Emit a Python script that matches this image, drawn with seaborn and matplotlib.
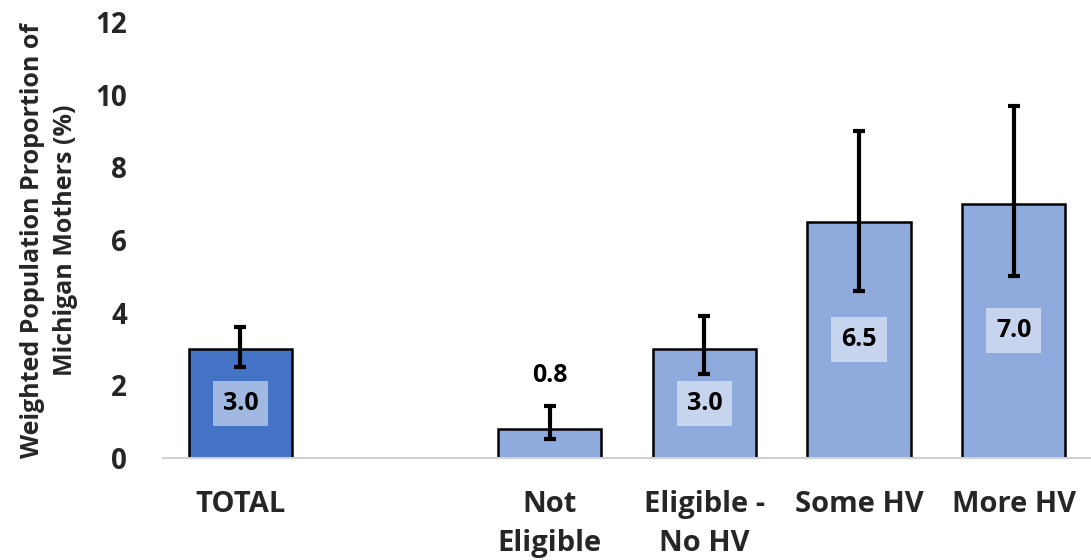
import pandas as pd
import matplotlib.pyplot as plt
import seaborn as sns

# chart data
categories = ["TOTAL", "Not\nEligible", "Eligible -\nNo HV", "Some HV", "More HV"]
values = [3.0, 0.8, 3.0, 6.5, 7.0]
err_low = [2.5, 0.52, 2.3, 4.6, 5.0]
err_high = [3.6, 1.42, 3.9, 9.0, 9.7]
order = ["TOTAL", " ", "Not\nEligible", "Eligible -\nNo HV", "Some HV", "More HV"]
bar_colors = ["#4472C4", "#8FAADC", "#8FAADC", "#8FAADC", "#8FAADC"]

df = pd.DataFrame({"group": categories, "pct": values})

sns.set_style("white")
plt.rcParams['font.family'] = ['Open Sans', 'DejaVu Sans']
plt.rcParams['font.weight'] = 'bold'

fig = plt.figure(figsize=(10.91, 5.6), dpi=100)
ax = fig.add_axes([163 / 1091, 1 - 458 / 560, (1091 - 163) / 1091, (458 - 22) / 560])

sns.barplot(data=df, x="group", y="pct", hue="group", order=order, hue_order=categories,
            palette=bar_colors, dodge=False, legend=False, width=0.67,
            edgecolor="black", linewidth=1.8, saturation=1, ax=ax)

# error bars and value labels
xpos = [order.index(c) for c in categories]
for x, v, lo, hi in zip(xpos, values, err_low, err_high):
    ax.errorbar(x, v, yerr=[[v - lo], [hi - v]], fmt="none", ecolor="black",
                elinewidth=3, capsize=4.5, capthick=3, zorder=5)
    if v < 1:
        ax.text(x, hi + 0.86, f"{v:.1f}", ha="center", va="center", fontsize=18,
                fontweight="bold", color="black", zorder=6)
    else:
        ax.text(x, v / 2, f"{v:.1f}", ha="center", va="center", fontsize=18,
                fontweight="bold", color="black", zorder=6,
                bbox=dict(boxstyle="square,pad=0.4", facecolor="white", alpha=0.5, edgecolor="none"))

ax.set_ylim(0, 12)
ax.set_yticks([0, 2, 4, 6, 8, 10, 12])
ax.set_xlim(-0.5, 5.5)
ax.set_xlabel("")
ax.set_ylabel("Weighted Population Proportion of\nMichigan Mothers (%)", fontsize=18,
              fontweight="bold", labelpad=12)
ax.yaxis.label.set_linespacing(1.45)
ax.tick_params(axis="y", labelsize=20, length=0, pad=26)
ax.tick_params(axis="x", labelsize=21, length=0, pad=23)
for lab in ax.get_xticklabels() + ax.get_yticklabels():
    lab.set_fontweight("bold")
    lab.set_linespacing(1.45)

sns.despine(ax=ax, left=True, right=True, top=True)
ax.spines["bottom"].set_color("#D0D0D0")
ax.spines["bottom"].set_linewidth(1.5)
ax.grid(False)

fig.savefig("out.png", dpi=100)
